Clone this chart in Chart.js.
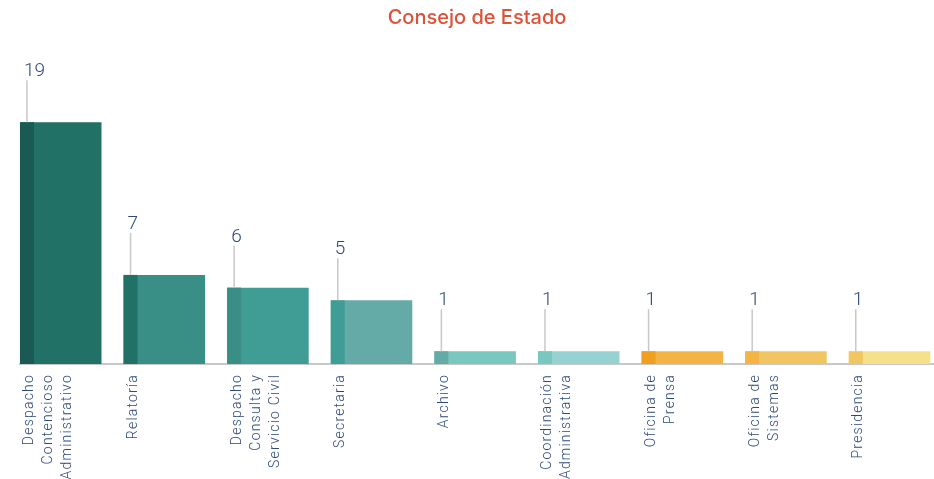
<!DOCTYPE html>
<html>
<head>
<meta charset="utf-8">
<script src="https://cdn.jsdelivr.net/npm/chart.js@4/dist/chart.umd.min.js"></script>
<style>
  html, body { margin: 0; padding: 0; background: #fff; }
  #wrap { width: 934px; height: 479px; }
</style>
</head>
<body>
<div id="wrap"><canvas id="chart"></canvas></div>
<script>
const categories = [
  ['Despacho', 'Contencioso', 'Administrativo'],
  ['Relatoría'],
  ['Despacho', 'Consulta y', 'Servicio Civil'],
  ['Secretaria'],
  ['Archivo'],
  ['Coordinación', 'Administrativa'],
  ['Oficina de', 'Prensa'],
  ['Oficina de', 'Sistemas'],
  ['Presidencia'],
];
const values = [19, 7, 6, 5, 1, 1, 1, 1, 1];
const barColors = ['#217167', '#398f85', '#409d96', '#64aaa7', '#78c8c0', '#96d2d2', '#f3b443', '#f1c662', '#f4e18a'];
const stripColors = ['#1b5a53', '#217167', '#398f85', '#409d96', '#64aaa7', '#78c8c0', '#f0a020', '#f3b443', '#f1c662'];

const textColor = '#2b4a78';

// darker strip on the left of each bar + leader line and value label
const barDecor = {
  id: 'barDecor',
  afterDatasetsDraw(chart) {
    const ctx = chart.ctx;
    const meta = chart.getDatasetMeta(0);
    ctx.save();
    meta.data.forEach((bar, i) => {
      const left = bar.x - bar.width / 2;
      ctx.fillStyle = stripColors[i];
      ctx.fillRect(left, bar.y, 14, bar.base - bar.y);

      ctx.strokeStyle = '#c8c8c8';
      ctx.lineWidth = 1.5;
      ctx.beginPath();
      ctx.moveTo(left + 7, bar.y - 42);
      ctx.lineTo(left + 7, bar.y);
      ctx.stroke();

      ctx.fillStyle = textColor;
      ctx.font = '300 19px Roboto';
      ctx.textAlign = 'left';
      ctx.textBaseline = 'alphabetic';
      ctx.fillText(String(values[i]), left + 4, bar.y - 46);
    });
    ctx.restore();
  },
  afterDraw(chart) {
    const ctx = chart.ctx;
    const xs = chart.scales.x;
    const top = chart.chartArea.bottom + 10;
    ctx.save();
    ctx.fillStyle = textColor;
    ctx.font = '300 14px Roboto';
    ctx.letterSpacing = '1.2px';
    ctx.textAlign = 'right';
    ctx.textBaseline = 'middle';
    categories.forEach((lines, i) => {
      const meta = chart.getDatasetMeta(0).data[i];
      const left = xs.getPixelForValue(i) - meta.width / 2;
      lines.forEach((line, j) => {
        ctx.save();
        ctx.translate(left + 10 + j * 19, top);
        ctx.rotate(-Math.PI / 2);
        ctx.fillText(line, 0, 0);
        ctx.restore();
      });
    });
    ctx.restore();
  }
};

new Chart(document.getElementById('chart'), {
  type: 'bar',
  data: {
    datasets: [{
      data: values.map((v, i) => ({ x: i, y: v })),
      backgroundColor: barColors,
      borderWidth: 0,
      barPercentage: 0.787,
      categoryPercentage: 1,
    }],
  },
  options: {
    responsive: true,
    maintainAspectRatio: false,
    animation: false,
    layout: { padding: { left: 20, right: 0, top: 0, bottom: 115 } },
    plugins: {
      legend: { display: false },
      tooltip: { enabled: false },
      title: {
        display: true,
        text: 'Consejo de Estado',
        color: '#dd5236',
        font: { family: 'Inter', size: 20, weight: '500' },
        padding: { top: 6, bottom: 54 },
      },
    },
    scales: {
      x: {
        type: 'linear',
        offset: false,
        min: -0.393,
        max: 8.429,
        grid: { display: false, drawTicks: false },
        border: { display: true, color: '#c8c8c8', width: 2 },
        ticks: { display: false },
      },
      y: {
        display: false,
        min: 0,
        max: 22,
      },
    },
  },
  plugins: [barDecor],
});
</script>
</body>
</html>
